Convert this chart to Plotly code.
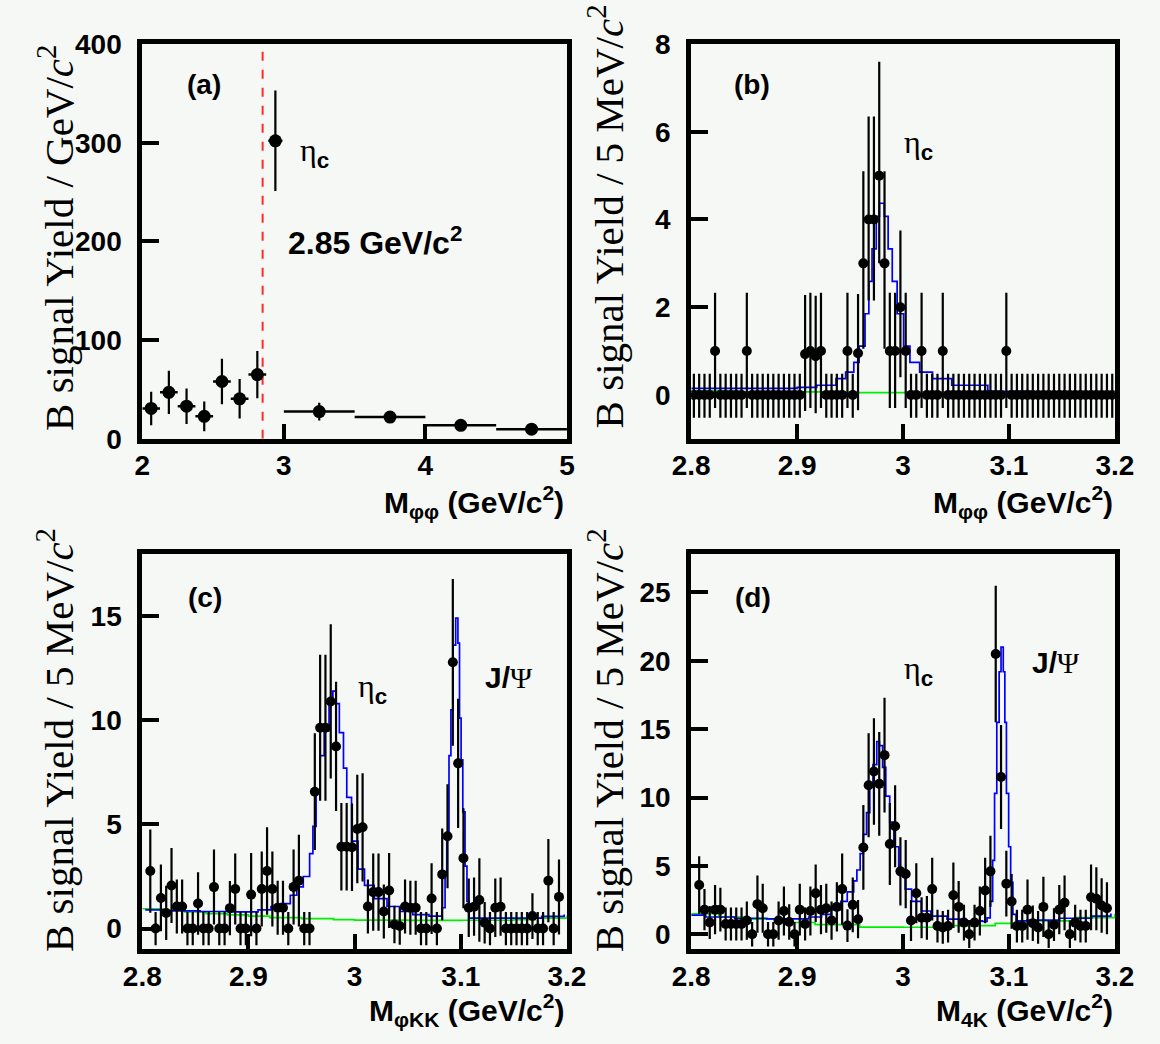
import numpy as np
import plotly.graph_objects as go

W, H = 1160, 1044

# ---------------- Panel (a): M_phiphi, GeV/c^2 bins ----------------
a_x = [2.0625, 2.1875, 2.3125, 2.4375, 2.5625, 2.6875, 2.8125, 2.94, 3.25, 3.75, 4.25, 4.75]
a_y = [30.7, 47.0, 33.0, 22.7, 58.0, 40.5, 65.0, 302.0, 27.5, 22.0, 13.6, 9.7]
a_err = [17, 22, 18, 15, 23, 20, 24, 51, 9, 6, 5, 4]
a_xerr = [0.0625, 0.0625, 0.0625, 0.0625, 0.0625, 0.0625, 0.0625, 0.05, 0.25, 0.25, 0.25, 0.25]
a_cut = 2.85

# ---------------- 5 MeV/c^2 binning for (b),(c),(d) ----------------
bin_centers = np.round(2.8025 + 0.005 * np.arange(80), 4)
half_bin = 0.0025

# ---------------- Panel (b): M_phiphi ----------------
b_y = [0, 0, 0, 0, 1, 0, 0, 0, 0, 0,
       1, 0, 0, 0, 0, 0, 0, 0, 0, 0,
       0, 0.93, 1.0, 0.88, 1.0, 0, 0, 0, 0, 1,
       0, 0.95, 3, 4, 4, 5, 3, 1, 1, 2,
       1, 0, 0, 1, 0, 0, 0, 1, 0, 0,
       0, 0, 0, 0, 0, 0, 0, 0, 0, 1,
       0, 0, 0, 0, 0, 0, 0, 0, 0, 0,
       0, 0, 0, 0, 0, 0, 0, 0, 0, 0]
b_ep = [.48, .48, .48, .48, 1.33, .48, .48, .48, .48, .48,
        1.33, .48, .48, .48, .48, .48, .48, .48, .48, .48,
        .48, 1.35, 1.33, 1.38, 1.33, .48, .48, .48, .48, 1.33,
        .48, 1.35, 2.1, 2.35, 2.35, 2.6, 2.1, 1.33, 1.33, 1.75,
        1.33, .48, .48, 1.33, .48, .48, .48, 1.33, .48, .48,
        .48, .48, .48, .48, .48, .48, .48, .48, .48, 1.33,
        .48, .48, .48, .48, .48, .48, .48, .48, .48, .48,
        .48, .48, .48, .48, .48, .48, .48, .48, .48, .48]
b_em = [.52, .52, .52, .52, 1.3, .52, .52, .52, .52, .52,
        1.3, .52, .52, .52, .52, .52, .52, .52, .52, .52,
        .52, 1.3, 1.3, 1.3, 1.3, .52, .52, .52, .52, 1.3,
        .52, 1.3, 1.95, 1.85, 1.85, 2.0, 1.95, 1.3, 1.3, 1.6,
        1.3, .52, .52, 1.3, .52, .52, .52, 1.3, .52, .52,
        .52, .52, .52, .52, .52, .52, .52, .52, .52, 1.3,
        .52, .52, .52, .52, .52, .52, .52, .52, .52, .52,
        .52, .52, .52, .52, .52, .52, .52, .52, .52, .52]
b_fit_x = [2.80, 2.90, 2.9185, 2.9367, 2.9458, 2.9535, 2.9585, 2.9641, 2.9677, 2.9707,
           2.9747, 2.9777, 2.9823, 2.9859, 2.9898, 2.9944, 3.0005, 3.0065, 3.0157, 3.0278,
           3.046, 3.08, 3.12, 3.20]
b_fit_y = [0.15, 0.17, 0.22, 0.37, 0.52, 0.74, 1.11, 1.85, 2.59, 3.33,
           4.07, 4.37, 4.07, 3.33, 2.59, 1.85, 1.11, 0.74, 0.52, 0.37,
           0.22, 0.08, 0.02, -0.03]
b_bkg_x = [2.80, 2.84, 2.925, 3.005, 3.116, 3.20]
b_bkg_y = [0.09, 0.07, 0.05, 0.03, -0.04, -0.04]

# ---------------- Panel (c): M_phiKK (bins 1..78) ----------------
c_y = [2.76, 0, 1.47, 0.75, 2.07, 1.06, 1.06, 0, 0, 1.2,
       0, 0, 1.99, 0, 0, 0.98, 1.9, 0, 0, 1.63,
       0, 1.9, 2.76, 1.9, 1.0, 1.0, 0, 2.0, 2.3, 0,
       0, 6.57, 9.64, 9.64, 10.9, 8.74, 3.93, 3.93, 3.9, 4.78,
       4.86, 1.06, 1.75, 1.75, 0.82, 1.83, 0.2, 0.12, 1.06, 1.0,
       1.0, 0, 0, 1.44, 0, 2.6, 4.43, 12.78, 7.93, 3.38,
       1.0, 1.05, 1.37, 0.28, 0, 1.0, 1.05, 0, 0, 0,
       0, 0, 0.6, 0, 0, 2.3, 0, 1.52]
c_err = [2.0, 0.8, 1.6, 1.3, 1.8, 1.3, 1.3, 0.8, 0.8, 1.5,
         0.8, 0.8, 1.8, 0.8, 0.8, 1.3, 1.7, 0.8, 0.8, 2.0,
         0.8, 1.8, 2.1, 1.8, 1.3, 1.3, 0.8, 1.8, 2.2, 0.8,
         0.8, 2.8, 3.5, 3.5, 3.7, 3.1, 2.1, 2.1, 2.1, 2.6,
         2.6, 1.3, 1.85, 1.85, 1.3, 1.8, 0.9, 0.9, 1.3, 1.3,
         1.3, 0.8, 0.8, 1.7, 0.8, 2.2, 2.5, 4.0, 3.1, 2.4,
         1.4, 1.4, 2.0, 1.0, 0.8, 1.4, 1.4, 0.8, 0.8, 0.8,
         0.8, 0.8, 1.1, 0.8, 0.8, 2.0, 0.8, 1.8]
c_fit_x = [2.8027, 2.824, 2.8544, 2.8847, 2.909, 2.9212, 2.9303, 2.9394, 2.9455, 2.9516,
           2.9576, 2.9607, 2.9637, 2.9673, 2.9713, 2.9759, 2.9795, 2.9825, 2.9856, 2.9895,
           2.9926, 2.9971, 3.0032, 3.0093, 3.0184, 3.0305, 3.0427, 3.0548, 3.07, 3.0807,
           3.0822, 3.0852, 3.0868, 3.0889, 3.0907, 3.0928, 3.0952, 3.0973, 3.0988, 3.1003,
           3.1019, 3.104, 3.1058, 3.1079, 3.1459, 3.1762, 3.1974]
c_fit_y = [0.9, 0.85, 0.82, 0.8, 0.9, 1.05, 1.2, 1.6, 2.0, 2.5,
           3.6, 4.9, 6.6, 8.3, 9.5, 10.8, 11.4, 10.8, 9.4, 7.7,
           6.3, 4.2, 2.85, 2.07, 1.44, 1.06, 0.82, 0.67, 0.6, 0.6,
           1.0, 2.7, 4.5, 8.3, 10.5, 13.6, 14.9, 13.7, 10.1, 8.1,
           5.6, 3.0, 1.3, 0.5, 0.5, 0.59, 0.67]
c_bkg_x = [2.80, 2.82, 2.84, 2.86, 2.88, 2.90, 2.92, 2.95, 2.98, 3.00, 3.05, 3.10, 3.15, 3.17, 3.20]
c_bkg_y = [0.95, 0.88, 0.80, 0.72, 0.66, 0.60, 0.53, 0.48, 0.43, 0.41, 0.39, 0.40, 0.43, 0.50, 0.62]

# ---------------- Panel (d): M_4K (bins 1..78) ----------------
d_y = [3.6, 1.8, 0.86, 1.8, 1.8, 0.75, 0.75, 0.75, 0.75, 1.0,
       0, 2.2, 1.9, 0, 0, 1.0, 1.7, 0.9, 0, 1.8,
       0.75, 1.7, 3.0, 1.8, 1.9, 1.0, 2.0, 3.3, 0.63, 2.15,
       1.1, 6.35, 10.9, 11.9, 11.0, 13.1, 6.6, 7.9, 4.6, 4.4,
       1.0, 3.0, 1.2, 1.2, 3.3, 0.6, 0.5, 0.6, 2.85, 2.0,
       0.85, 0, 0.85, 1.7, 3.2, 4.6, 20.5, 11.5, 3.7, 2.4,
       0.6, 0.6, 1.8, 0.8, 0.5, 2.0, 0, 0.7, 1.8, 2.3,
       0, 0.85, 0.6, 0.6, 2.7, 2.6, 2.1, 1.9]
d_err = [2.1, 1.5, 1.2, 1.8, 1.6, 1.2, 1.2, 1.2, 1.2, 1.4,
         0.9, 2.1, 1.8, 0.9, 0.9, 1.4, 1.8, 1.3, 0.9, 1.9,
         1.2, 1.8, 2.1, 1.8, 1.8, 1.4, 1.8, 2.6, 1.2, 2.0,
         1.4, 3.1, 3.8, 3.9, 3.8, 4.2, 3.0, 3.0, 2.5, 2.5,
         1.5, 2.2, 1.5, 1.6, 2.3, 1.2, 1.2, 1.2, 2.4, 1.9,
         1.3, 1.0, 1.3, 1.8, 2.4, 2.6, 5.0, 3.8, 2.4, 2.0,
         1.2, 1.2, 2.2, 1.3, 1.2, 2.2, 1.0, 1.2, 1.8, 2.0,
         1.0, 1.3, 1.2, 1.2, 2.4, 2.3, 2.0, 1.9]
d_fit_x = [2.80, 2.8137, 2.841, 2.8714, 2.9109, 2.923, 2.9321, 2.9413, 2.9473, 2.9534,
           2.9564, 2.9595, 2.9625, 2.9655, 2.9686, 2.9716, 2.9752, 2.9777, 2.9807, 2.9837,
           2.9874, 2.9913, 2.9959, 3.002, 3.0081, 3.0172, 3.0263, 3.0415, 3.0566, 3.0749,
           3.0793, 3.0823, 3.0846, 3.0864, 3.0885, 3.0907, 3.0925, 3.0946, 3.0961, 3.0976,
           3.0997, 3.1016, 3.1037, 3.1067, 3.1173, 3.1476, 3.178, 3.1962]
d_fit_y = [1.4, 1.26, 1.17, 1.12, 1.26, 1.45, 1.8, 2.4, 3.1, 3.9,
           4.7, 5.9, 7.3, 8.9, 10.8, 12.4, 14.1, 13.8, 12.2, 10.1,
           8.2, 6.4, 4.7, 3.3, 2.4, 1.7, 1.33, 1.1, 0.98, 0.93,
           1.2, 2.4, 5.4, 10.3, 15.5, 19.2, 21.0, 19.2, 15.5, 10.3,
           6.4, 3.8, 1.45, 0.98, 1.03, 1.17, 1.33, 1.52]
d_bkg_x = [2.80, 2.826, 2.85, 2.886, 2.917, 2.959, 3.00, 3.04, 3.087, 3.124, 3.163, 3.20]
d_bkg_y = [1.5, 1.26, 1.1, 0.86, 0.7, 0.52, 0.51, 0.63, 0.79, 0.98, 1.21, 1.5]

# ---------------- styling ----------------
BG = "#f5f8f4"
SANS = "Liberation Sans"
SERIF = "Liberation Serif"

fig = go.Figure()


def data_trace(x, y, ep, em, xe, xa, ya, msize=10):
    return go.Scatter(
        x=x, y=y, mode="markers", xaxis=xa, yaxis=ya,
        marker=dict(color="black", size=msize, symbol="circle"),
        error_y=dict(type="data", array=ep, arrayminus=em, symmetric=False,
                     color="black", thickness=2.2, width=0),
        error_x=dict(type="data", array=xe, color="black", thickness=2.5, width=0),
        showlegend=False, hoverinfo="skip")


def line_trace(x, y, color, xa, ya):
    return go.Scatter(x=x, y=y, mode="lines", xaxis=xa, yaxis=ya,
                      line=dict(color=color, width=1.7, shape="hv"),
                      showlegend=False, hoverinfo="skip")


# (a)
fig.add_trace(go.Scatter(x=[a_cut, a_cut], y=[0, 400], mode="lines", xaxis="x", yaxis="y",
                         line=dict(color="#ff2a2a", width=2, dash="dash"),
                         showlegend=False, hoverinfo="skip"))
fig.add_trace(data_trace(a_x, a_y, a_err, a_err, a_xerr, "x", "y", msize=13))

# (b)
fig.add_trace(line_trace(b_bkg_x, b_bkg_y, "#00ee00", "x2", "y2"))
fig.add_trace(line_trace(b_fit_x, b_fit_y, "#0000ff", "x2", "y2"))
fig.add_trace(data_trace(bin_centers, b_y, b_ep, b_em, [half_bin] * len(b_y), "x2", "y2"))

# (c)
cx = bin_centers[1:79]
fig.add_trace(line_trace(c_bkg_x, c_bkg_y, "#00ee00", "x3", "y3"))
fig.add_trace(line_trace(c_fit_x, c_fit_y, "#0000ff", "x3", "y3"))
fig.add_trace(data_trace(cx, c_y, c_err, c_err, [half_bin] * len(c_y), "x3", "y3"))

# (d)
fig.add_trace(line_trace(d_bkg_x, d_bkg_y, "#00ee00", "x4", "y4"))
fig.add_trace(line_trace(d_fit_x, d_fit_y, "#0000ff", "x4", "y4"))
fig.add_trace(data_trace(cx, d_y, d_err, d_err, [half_bin] * len(d_y), "x4", "y4"))


def ax(domain, rng, tickvals, ticktext, anchor, ticklen, standoff):
    return dict(domain=domain, range=rng, anchor=anchor, tickvals=tickvals, ticktext=ticktext,
                showline=True, linecolor="black", linewidth=5, mirror=True,
                ticks="inside", ticklen=ticklen, tickwidth=4, tickcolor="black",
                showgrid=False, zeroline=False, ticklabelstandoff=standoff,
                tickfont=dict(family=SANS, size=28, color="black", weight="bold"))


XL = [127.5 / W, 566.5 / W]
XR = [695 / W, 1133 / W]
YT = [1 - 436.7 / H, 1 - 30 / H]
YB = [1 - 963 / H, 1 - 555 / H]

xt_fine = [2.8, 2.9, 3.0, 3.1, 3.2]
xt_fine_txt = ["2.8", "2.9", "3", "3.1", "3.2"]

XS, YS = -2, 10
fig.update_layout(
    width=W, height=H, margin=dict(l=0, r=0, t=0, b=0),
    paper_bgcolor=BG, plot_bgcolor=BG,
    xaxis=ax(XL, [2, 5], [2, 3, 4, 5], ["2", "3", "4", "5"], "y", 15, XS),
    yaxis=ax(YT, [0, 400], [0, 100, 200, 300, 400], ["0", "100", "200", "300", "400"], "x", 17, YS),
    xaxis2=ax(XR, [2.8, 3.2], xt_fine, xt_fine_txt, "y2", 15, XS),
    yaxis2=ax(YT, [-1, 8], [0, 2, 4, 6, 8], ["0", "2", "4", "6", "8"], "x2", 17, YS),
    xaxis3=ax(XL, [2.8, 3.2], xt_fine, xt_fine_txt, "y3", 15, XS),
    yaxis3=ax(YB, [-1, 18], [0, 5, 10, 15], ["0", "5", "10", "15"], "x3", 17, YS),
    xaxis4=ax(XR, [2.8, 3.2], xt_fine, xt_fine_txt, "y4", 15, XS),
    yaxis4=ax(YB, [-1.11, 27.85], [0, 5, 10, 15, 20, 25], ["0", "5", "10", "15", "20", "25"], "x4", 17, YS),
)

ann = []


def add(text, x, y, size, family=SANS, xanchor="center", yanchor="middle", angle=0):
    ann.append(dict(text=text, x=x / W, y=1 - y / H, xref="paper", yref="paper",
                    xanchor=xanchor, yanchor=yanchor, textangle=angle, showarrow=False,
                    font=dict(family=family, size=size, color="black")))


# y-axis titles (Times, rotated)
add("B signal Yield / GeV/<i>c</i><sup>2</sup>", 38, 431, 41, SERIF, yanchor="bottom", angle=-90)
add("B signal Yield / 5 MeV/<i>c</i><sup>2</sup>", 607, 428, 41, SERIF, yanchor="bottom", angle=-90)
add("B signal Yield / 5 MeV/<i>c</i><sup>2</sup>", 38, 968, 41, SERIF, yanchor="bottom", angle=-90)
add("B signal Yield / 5 MeV/<i>c</i><sup>2</sup>", 607, 968, 41, SERIF, yanchor="bottom", angle=-90)

# x-axis titles
add("<b>M<sub>φφ</sub> (GeV/c<sup>2</sup>)</b>", 566, 502, 30, xanchor="right")
add("<b>M<sub>φφ</sub> (GeV/c<sup>2</sup>)</b>", 1133, 502, 30, xanchor="right")
add("<b>M<sub>φKK</sub> (GeV/c<sup>2</sup>)</b>", 566, 1025, 30, xanchor="right")
add("<b>M<sub>4K</sub> (GeV/c<sup>2</sup>)</b>", 1133, 1025, 30, xanchor="right")

# panel labels
add("<b>(a)</b>", 191, 72, 28)
add("<b>(b)</b>", 758, 72, 28)
add("<b>(c)</b>", 192, 600, 28)
add("<b>(d)</b>", 759, 600, 28)

eta = 'η<sub><span style="font-family:Liberation Sans;font-weight:bold">c</span></sub>'
jpsi = '<span style="font-family:Liberation Sans;font-weight:bold">J/</span>Ψ'
add(eta, 306, 142, 32, SERIF)
add(eta, 930, 133, 32, SERIF)
add(eta, 365, 694, 32, SERIF)
add(eta, 930, 676, 32, SERIF)
add(jpsi, 507, 683, 30, SERIF)
add(jpsi, 1072, 667, 30, SERIF)

add("<b>2.85 GeV/c<sup>2</sup></b>", 368, 233, 32)

fig.update_layout(annotations=ann)

fig.write_html("out.html")
